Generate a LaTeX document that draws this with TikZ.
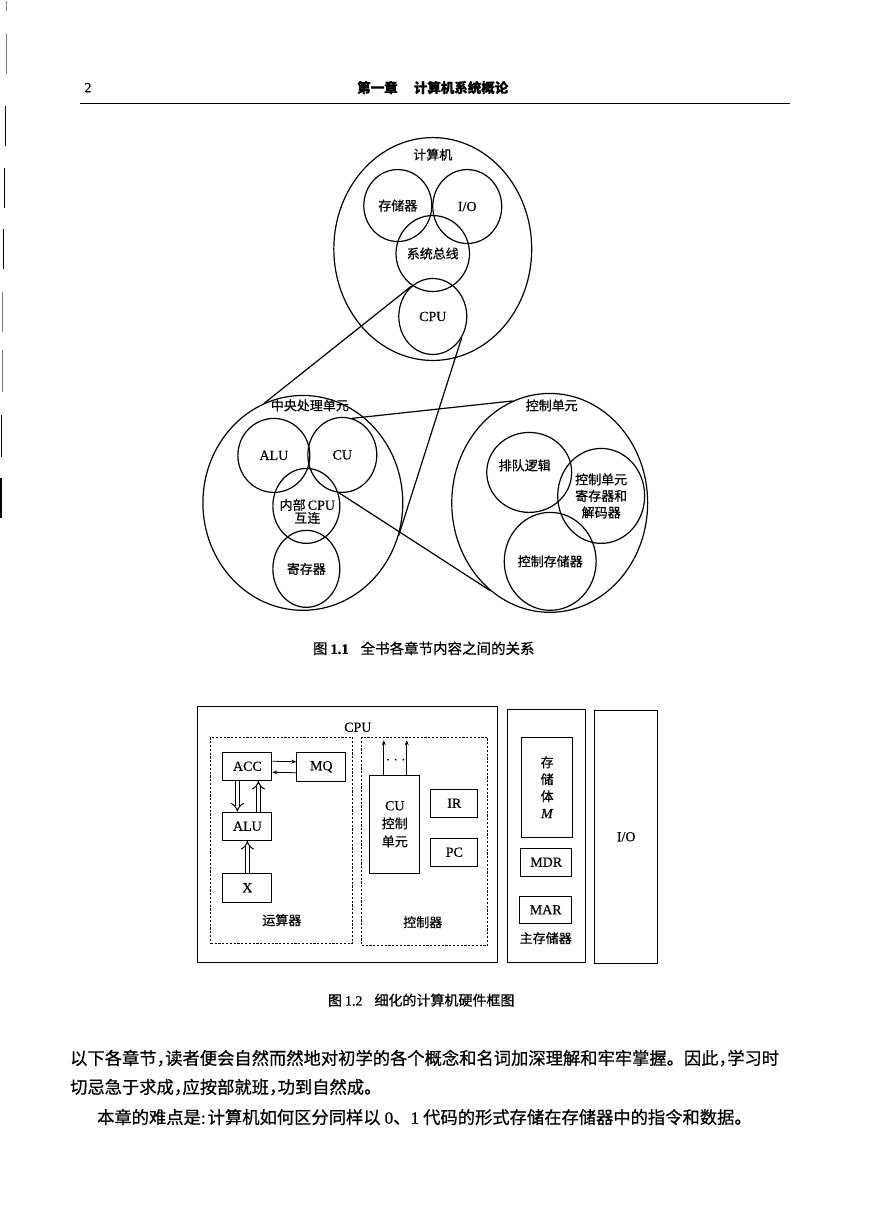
\documentclass[tikz,border=0pt]{standalone}
\usepackage{fontspec}
\setmainfont[FakeBold=0.5]{Liberation Serif}
\newfontfamily\cjk[FakeBold=0.6]{Noto Sans CJK SC}
\usetikzlibrary{shapes.geometric,arrows.meta}
\newcommand{\halfcomma}{\makebox[0.5em][l]{，}}
\newcommand{\zh}[1]{{\cjk\fontsize{13}{18}\selectfont #1}}
\begin{document}
\begin{tikzpicture}[x=1pt,y=-1pt,
  zone/.style={ellipse, draw, line width=1.2pt, inner sep=0pt, font=\fontsize{13}{16.5}\selectfont\cjk, align=center},
  zonelabel/.style={inner sep=0pt, font=\fontsize{13}{16.5}\selectfont\cjk, align=center},
  latin/.style={font=\fontsize{14}{16.5}\selectfont\rmfamily},
  unit/.style={rectangle, draw, line width=1pt, inner sep=0pt, font=\fontsize{14}{18}\selectfont, align=center},
  frame/.style={rectangle, draw, line width=1.1pt, inner sep=0pt, font=\fontsize{14}{18}\selectfont},
  group/.style={rectangle, draw, line width=0.9pt, dash pattern=on 2.2pt off 1.6pt, inner sep=0pt},
  link/.style={line width=1.2pt},
  bus/.style={draw, double=white, double distance=3.6pt, line width=1pt, -{Implies}},
  wire/.style={line width=0.8pt, -{Stealth[length=5pt,width=4pt]}},
  bodyline/.style={anchor=west, inner sep=0pt, font=\fontsize{17.3}{20}\selectfont\cjk}]
\fill[white] (0,0) rectangle (869,1228);

\foreach \x/\ya/\yb/\c in {6.5/0/10/gray, 6.5/33/73/gray, 5.5/105/145/black, 4.5/167/207/black,
  3.5/228/268/black, 2.7/292/332/gray, 2.7/350/392/gray, 1.8/415/457/black, 1/478/518/black}
  \draw[line width=1.3pt, \c] (\x,\ya) -- (\x,\yb);

% page head
\node[font=\fontsize{14}{16}\selectfont] (pagenum) at (88,87) {2};
\node[font=\fontsize{13.5}{16}\selectfont\cjk\bfseries] (chapter) at (433,87) {第一章\hspace{1.2em}计算机系统概论};
\draw[line width=1pt] (80,103) -- (790,103);

% figure 1.1
\node[zone, minimum width=198pt, minimum height=223pt] (computer) at (433,248.5) {};
\node[zonelabel] (computertext) at (433,154) {计算机};
\node[zone, minimum width=68pt, minimum height=72pt] (mem) at (398,205) {存储器};
\node[zone, latin, minimum width=69pt, minimum height=74pt] (io) at (467.5,206) {I/O};
\node[zone, minimum width=68pt, minimum height=76pt] (sysbus) at (433,253) {系统总线};
\node[zone, latin, minimum width=68pt, minimum height=76pt] (cpu) at (433,316) {CPU};

\node[zone, minimum width=200pt, minimum height=215pt] (cpuunit) at (303,502.5) {};
\node[zonelabel] (cpuunittext) at (310,405) {中央处理单元};
\node[zone, latin, minimum width=72pt, minimum height=74pt] (alu) at (274,455) {ALU};
\node[zone, latin, minimum width=69pt, minimum height=75pt] (cu) at (342.5,454.5) {CU};
\node[zone, minimum width=67pt, minimum height=75pt] (internal) at (306.5,505.5) {};
\node[zonelabel, font=\fontsize{13}{13}\selectfont\cjk] (internaltext) at (307.5,511)
  {内部\,{\fontsize{14}{13}\selectfont\rmfamily CPU}\\互连};
\node[zone, minimum width=67pt, minimum height=77pt] (regs) at (306.5,568.5) {寄存器};

\node[zone, minimum width=196pt, minimum height=219pt] (ctrlunit) at (550,502.5) {};
\node[zonelabel] (ctrlunittext) at (552,405) {控制单元};
\node[zone, minimum width=85pt, minimum height=80pt] (queue) at (529.5,472) {};
\node[zonelabel] (queuetext) at (525,465) {排队逻辑};
\node[zone, minimum width=87pt, minimum height=95pt] (decoder) at (601.5,495.5) {控制单元\\寄存器和\\解码器};
\node[zone, minimum width=85pt, minimum height=98pt] (ctrlstore) at (550.5,561) {控制存储器};

\draw[link] (cpu.125) -- (cpuunit.111);
\draw[link] (cpu.-36) -- (cpuunit.-19);
\draw[link] (cu.75) -- (ctrlunit.110);
\draw[link] (cu.-95) -- (ctrlunit.-124);

\node[anchor=west, inner sep=0pt, font=\fontsize{14.5}{16}\selectfont\cjk] (caption1) at (313,648)
  {图\hspace{3pt}{\rmfamily\bfseries 1.1}\hspace{12pt}全书各章节内容之间的关系};

% figure 1.2
\node[frame, minimum width=300pt, minimum height=256pt] (cpubox) at (348,834) {};
\node[latin, inner sep=0pt] (cpuboxtext) at (358,727) {CPU};
\node[group, minimum width=142pt, minimum height=206pt] (alugroup) at (282,840) {};
\node[group, minimum width=126pt, minimum height=208pt] (ctrlgroup) at (425,841) {};
\node[zonelabel] (alugrouptext) at (282,920) {运算器};
\node[zonelabel] (ctrlgrouptext) at (423,922) {控制器};

\node[unit, minimum width=49pt, minimum height=28pt] (acc) at (247.5,766) {ACC};
\node[unit, minimum width=49pt, minimum height=29pt] (mq) at (321.5,766.5) {MQ};
\node[unit, minimum width=49pt, minimum height=28pt] (alubox) at (247.5,826) {ALU};
\node[unit, minimum width=49pt, minimum height=29pt] (xbox) at (247.5,887.5) {X};
\node[unit, minimum width=50pt, minimum height=98pt] (cubox) at (395,824) {CU\\\zh{控制}\\\zh{单元}};
\node[unit, minimum width=47pt, minimum height=28pt] (ir) at (454.5,803) {IR};
\node[unit, minimum width=47pt, minimum height=28pt] (pc) at (454.5,852) {PC};

\draw[wire] ([yshift=5pt]acc.east) -- ([yshift=5pt]mq.west);
\draw[wire] ([yshift=-6pt]mq.west) -- ([yshift=-6pt]acc.east);
\draw[bus] ([xshift=-10pt]acc.south) -- ([xshift=-10pt]alubox.north);
\draw[bus] ([xshift=11pt]alubox.north) -- ([xshift=11pt]acc.south);
\draw[bus] (xbox.north) -- (alubox.south);

\coordinate (cuout1) at (384,740);
\coordinate (cuout2) at (407,740);
\draw[wire] ([xshift=-11pt]cubox.north) -- (cuout1);
\draw[wire] ([xshift=12pt]cubox.north) -- (cuout2);
\node[inner sep=0pt, font=\fontsize{16}{16}\selectfont] (cudots) at (396,760) {$\cdots$};

\node[frame, minimum width=78pt, minimum height=253pt] (memframe) at (547,835.5) {};
\node[unit, minimum width=51pt, minimum height=100pt, font=\fontsize{14}{17}\selectfont] (memarray) at (547.5,787)
  {\zh{存}\\\zh{储}\\\zh{体}\\\textit{M}};
\node[unit, minimum width=51pt, minimum height=28pt] (mdr) at (546.5,862) {MDR};
\node[unit, minimum width=52pt, minimum height=27pt] (mar) at (546,909.5) {MAR};
\node[zonelabel] (memframetext) at (546,938) {主存储器};
\node[frame, minimum width=63pt, minimum height=253pt] (ioframe) at (626.5,836.5) {I/O};

\node[anchor=west, inner sep=0pt, font=\fontsize{14}{16}\selectfont\cjk] (caption2) at (328,1000)
  {图\hspace{3pt}{\rmfamily 1.2}\hspace{12pt}细化的计算机硬件框图};

% text below
\node[bodyline] (para1) at (70,1058) {以下各章节\halfcomma 读者便会自然而然地对初学的各个概念和名词加深理解和牢牢掌握。因此\halfcomma 学习时};
\node[bodyline] (para2) at (70,1087) {切忌急于求成\halfcomma 应按部就班\halfcomma 功到自然成。};
\node[bodyline] (para3) at (97,1117) {本章的难点是{\rmfamily :}\hspace{2pt}计算机如何区分同样以\hspace{4pt}{\rmfamily 0}、{\rmfamily 1}\hspace{4pt}代码的形式存储在存储器中的指令和数据。};
\end{tikzpicture}
\end{document}
